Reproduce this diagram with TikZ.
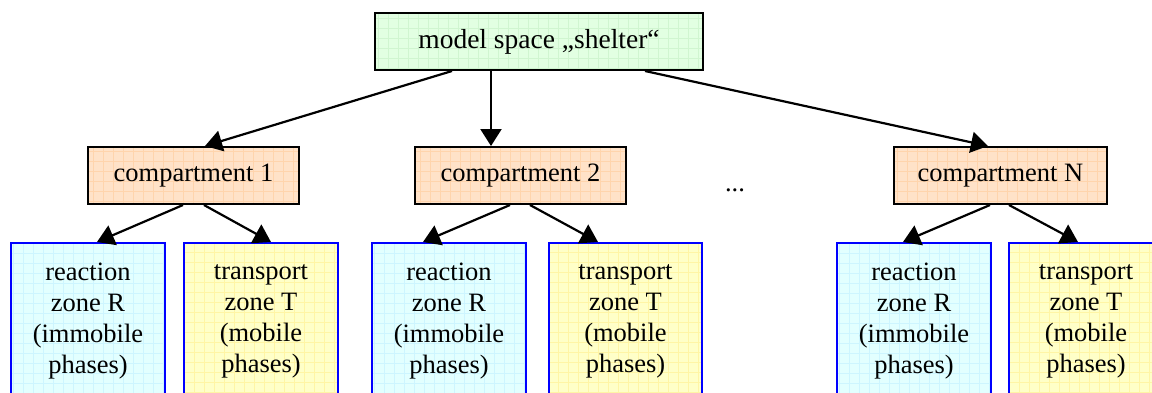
\documentclass[tikz,border=0pt]{standalone}
\usepackage{fontspec}
\setmainfont{Liberation Serif}
\usetikzlibrary{arrows.meta}
\definecolor{topfill}{RGB}{226,255,226}
\definecolor{topgrid}{RGB}{208,245,208}
\definecolor{cfill}{RGB}{255,226,200}
\definecolor{cgrid}{RGB}{255,212,172}
\definecolor{rfill}{RGB}{226,255,255}
\definecolor{rgrid}{RGB}{205,245,255}
\definecolor{tfill}{RGB}{255,255,200}
\definecolor{tgrid}{RGB}{255,245,165}
\definecolor{zoneblue}{RGB}{0,0,255}
\tikzset{
  gridded/.style={path picture={\draw[#1, line width=0.6pt, step=10pt] ([shift={(-10pt,-10pt)}]path picture bounding box.south west) grid ([shift={(10pt,10pt)}]path picture bounding box.north east);}},
  topbox/.style={draw=black, line width=2pt, fill=topfill, gridded=topgrid, minimum width=328pt, minimum height=57pt, inner sep=0pt, font=\fontsize{27.5}{31}\selectfont},
  compbox/.style={draw=black, line width=2pt, fill=cfill, gridded=cgrid, minimum width=211pt, minimum height=57pt, inner sep=0pt, font=\fontsize{26.5}{31}\selectfont},
  zonebox/.style={draw=zoneblue, line width=2pt, gridded=#1, minimum width=154pt, minimum height=156pt, inner sep=0pt, align=center, font=\fontsize{26.5}{31}\selectfont},
  reactbox/.style={zonebox=rgrid, fill=rfill},
  transbox/.style={zonebox=tgrid, fill=tfill},
  arrowline/.style={line width=2.2pt, -{Triangle[length=17pt,width=21pt]}}
}
\begin{document}
\begin{tikzpicture}[x=1pt,y=1pt]
\clip (0,0) rectangle (1152,-392);
\useasboundingbox (0,0) rectangle (1152,-392);
\node[topbox] (top) at (539,-41.5) {model space „shelter“};
\node[compbox] (c1) at (193.5,-175.5) {compartment 1};
\node[compbox] (c2) at (520.5,-175.5) {compartment 2};
\node[compbox, minimum width=213pt] (cN) at (1000.5,-175.5) {compartment N};
\node[font=\fontsize{26.5}{31}\selectfont, anchor=base] (dots) at (735,-191) {...};
\node[reactbox] (r1) at (88,-321) {reaction\\zone R\\(immobile\\phases)};
\node[transbox] (t1) at (261,-321) {transport\\zone T\\(mobile\\phases)};
\node[reactbox] (r2) at (449,-321) {reaction\\zone R\\(immobile\\phases)};
\node[transbox, minimum width=153pt] (t2) at (625.5,-321) {transport\\zone T\\(mobile\\phases)};
\node[reactbox] (rN) at (914,-321) {reaction\\zone R\\(immobile\\phases)};
\node[transbox] (tN) at (1086,-321) {transport\\zone T\\(mobile\\phases)};
\draw[arrowline] ([xshift=-87pt]top.south) -- ([xshift=11.5pt]c1.north);
\draw[arrowline] ([xshift=-48pt]top.south) -- ([xshift=-29.5pt]c2.north);
\draw[arrowline] ([xshift=106pt]top.south) -- ([xshift=-12.5pt]cN.north);
\draw[arrowline] ([xshift=-10.5pt]c1.south) -- ([xshift=9pt]r1.north);
\draw[arrowline] ([xshift=10.5pt]c1.south) -- ([xshift=10pt]t1.north);
\draw[arrowline] ([xshift=-10.5pt]c2.south) -- ([xshift=-26pt]r2.north);
\draw[arrowline] ([xshift=9.5pt]c2.south) -- ([xshift=-27.5pt]t2.north);
\draw[arrowline] ([xshift=-10.5pt]cN.south) -- ([xshift=-11pt]rN.north);
\draw[arrowline] ([xshift=8.5pt]cN.south) -- ([xshift=-8pt]tN.north);
\end{tikzpicture}
\end{document}
